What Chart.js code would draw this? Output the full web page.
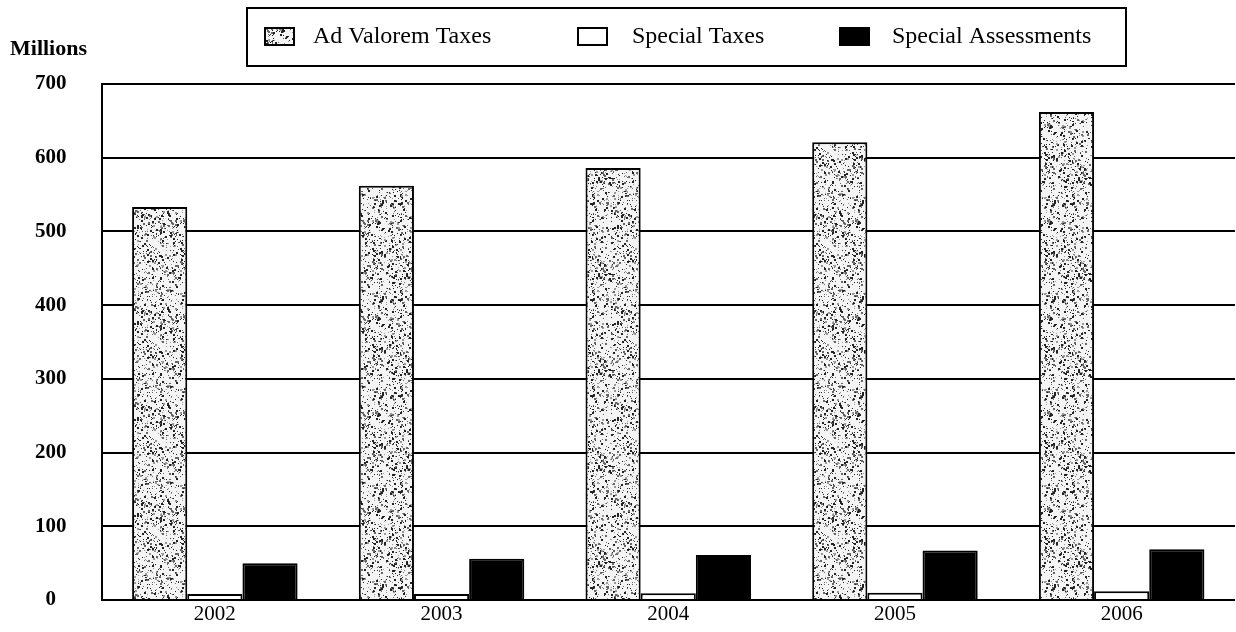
<!DOCTYPE html>
<html>
<head>
<meta charset="utf-8">
<script src="https://cdn.jsdelivr.net/npm/chart.js@4/dist/chart.umd.min.js"></script>
<style>
    html, body { margin: 0; padding: 0; background: #fff; }
    #wrap { width: 1236px; height: 632px; }
</style>
</head>
<body>
<div id="wrap"><canvas id="taxChart" width="1236" height="632"></canvas></div>
<script>
// values (millions)
const years = ['2002', '2003', '2004', '2005', '2006'];
const adValorem = [533, 562, 586, 621, 662];
const specialTaxes = [8, 8, 9, 10, 12];
const specialAssessments = [50, 56, 61, 67, 69];
const seriesNames = ['Ad Valorem Taxes', 'Special Taxes', 'Special Assessments'];
const yTicks = [0, 100, 200, 300, 400, 500, 600, 700];

const serif = '"Liberation Serif", "DejaVu Serif", serif';

// speckled fill like the photocopied original
function makeSpeckle() {
    const c = document.createElement('canvas');
    c.width = 96;
    c.height = 96;
    const g = c.getContext('2d');
    g.fillStyle = '#f4f4f4';
    g.fillRect(0, 0, c.width, c.height);
    let seed = 12345;
    function next() {
        seed = (seed * 1103515245 + 12345) % 2147483648;
        return seed / 2147483648;
    }
    for (let i = 0; i < 1200; i++) {
        const x = Math.floor(next() * c.width);
        const y = Math.floor(next() * c.height);
        const shade = next();
        g.fillStyle = shade < 0.5 ? '#222' : (shade < 0.8 ? '#666' : '#999');
        const s = next() < 0.7 ? 1 : 2;
        g.fillRect(x, y, s, s);
    }
    return g.createPattern(c, 'repeat');
}

document.addEventListener('DOMContentLoaded', function() {
    const speckle = makeSpeckle();
    const fills = [speckle, '#ffffff', '#000000'];

    const boxedLegend = {
        id: 'boxedLegend',
        afterDraw(chart) {
            const ctx = chart.ctx;
            ctx.save();
            // "Millions" unit label
            ctx.fillStyle = '#000';
            ctx.font = 'bold 22px ' + serif;
            ctx.textAlign = 'left';
            ctx.textBaseline = 'middle';
            ctx.fillText('Millions', 10, 49);

            // legend frame
            ctx.lineWidth = 2;
            ctx.strokeStyle = '#000';
            ctx.strokeRect(247, 8, 879, 58);

            const iconX = [265, 578, 840];
            const textX = [313, 632, 892];
            ctx.font = '24px ' + serif;
            chart.data.datasets.forEach(function(ds, i) {
                ctx.fillStyle = fills[i];
                ctx.fillRect(iconX[i], 28, 29, 17);
                ctx.strokeRect(iconX[i], 28, 29, 17);
                ctx.fillStyle = '#000';
                ctx.fillText(ds.label, textX[i], 37);
            });
            ctx.restore();
        }
    };

    const ctx = document.getElementById('taxChart');
    new Chart(ctx, {
        type: 'bar',
        data: {
            labels: years,
            datasets: [{
                label: seriesNames[0],
                data: adValorem,
                backgroundColor: fills[0],
                borderColor: '#000',
                borderWidth: 2
            }, {
                label: seriesNames[1],
                data: specialTaxes,
                backgroundColor: fills[1],
                borderColor: '#000',
                borderWidth: 2
            }, {
                label: seriesNames[2],
                data: specialAssessments,
                backgroundColor: fills[2],
                borderColor: '#000',
                borderWidth: 2
            }]
        },
        options: {
            responsive: false,
            maintainAspectRatio: false,
            animation: false,
            devicePixelRatio: 1,
            layout: {
                autoPadding: false,
                padding: { top: 84, left: 0, right: 1, bottom: 3 }
            },
            datasets: {
                bar: {
                    categoryPercentage: 0.73,
                    barPercentage: 1.0
                }
            },
            scales: {
                x: {
                    grid: { display: false, drawTicks: false },
                    border: { display: false },
                    ticks: {
                        color: '#000',
                        padding: 4,
                        font: { family: serif, size: 21, lineHeight: 1 }
                    }
                },
                y: {
                    min: 0,
                    max: 700,
                    afterBuildTicks: function(axis) {
                        axis.ticks = yTicks.map(v => ({ value: v }));
                    },
                    // the wide tick padding would otherwise push the plot bottom up
                    afterFit: function(axis) {
                        axis.paddingTop = 13;
                        axis.paddingBottom = 13;
                    },
                    grid: {
                        color: '#000',
                        lineWidth: 2,
                        drawTicks: false
                    },
                    border: { display: true, color: '#000', width: 2 },
                    ticks: {
                        color: '#000',
                        padding: 35,
                        crossAlign: 'center',
                        font: { family: serif, size: 21, weight: 'bold' }
                    }
                }
            },
            plugins: {
                legend: { display: false },
                tooltip: { enabled: false }
            }
        },
        plugins: [boxedLegend]
    });
});
</script>
</body>
</html>
